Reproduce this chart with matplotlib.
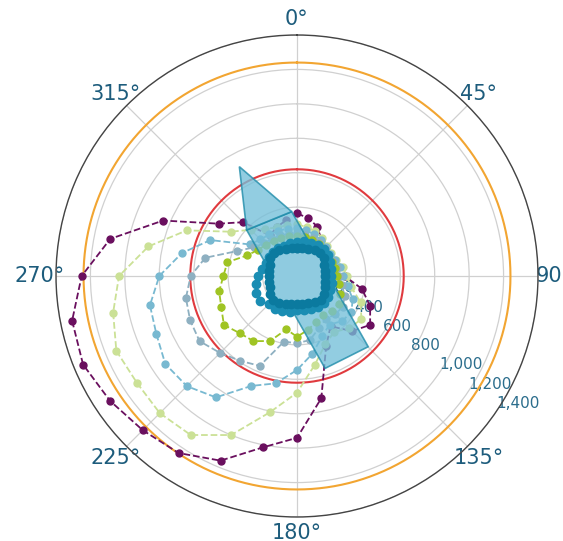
import numpy as np
import matplotlib
matplotlib.use("Agg")
import matplotlib.pyplot as plt

# angles of the 32 samples around the circle (degrees, clockwise from north)
angles_deg = np.arange(32) * 11.25

# radial values, one list per series
purple = [364, 342, 310, 254, 195, 165, 150, 200, 277, 385, 460, 511, 453, 351, 442, 724,
          940, 1015, 1161, 1237, 1267, 1306, 1345, 1332, 1251, 1106, 842, 547, 442, 283, 307, 330]
pale_green = [300, 290, 280, 265, 250, 240, 245, 270, 290, 320, 400, 450, 430, 390, 430, 527,
              678, 807, 1000, 1111, 1127, 1118, 1136, 1089, 1034, 880, 693, 463, 380, 330, 305, 300]
light_blue = [280, 270, 262, 250, 240, 232, 238, 255, 270, 300, 350, 380, 370, 340, 380, 460,
              546, 636, 691, 848, 905, 920, 884, 871, 800, 682, 545, 330, 300, 290, 285, 280]
gray_blue = [250, 245, 240, 235, 228, 222, 225, 235, 245, 265, 300, 320, 315, 300, 330, 380,
             390, 389, 565, 593, 632, 681, 672, 658, 618, 543, 378, 300, 270, 260, 255, 250]
bright_green = [235, 232, 228, 225, 220, 215, 218, 225, 235, 250, 270, 290, 285, 275, 290, 320,
                353, 316, 409, 455, 470, 511, 476, 461, 428, 412, 313, 273, 255, 245, 240, 237]
teal_loop = [200, 205, 210, 215, 225, 215, 205, 200, 200, 205, 210, 215, 220, 215, 205, 200,
             198, 213, 222, 228, 234, 258, 256, 240, 225, 205, 198, 195, 200, 195, 190, 195]
teal_square = [160, 163, 172, 185, 193, 186, 172, 163, 160, 164, 173, 186, 194, 185, 171, 163,
               161, 164, 173, 187, 195, 186, 172, 164, 161, 163, 172, 186, 193, 185, 172, 163]

# pencil-shaped highlight polygon (theta deg, r)
band_theta = [312.4, 355.3, 134.8, 163.1]
band_r = [396, 375, 583, 561]
cap_theta = [312.4, 332.2, 355.3]
cap_r = [396, 718, 375]

red_level = 620
orange_level = 1240

rticks = [200, 400, 600, 800, 1000, 1200, 1400]
rtick_labels = ["200", "400", "600", "800", "1,000", "1,200", "1,400"]

fig = plt.figure(figsize=(5.63, 5.41), dpi=100)
ax = fig.add_axes([56 / 563, 24 / 541, 482 / 563, 482 / 541], projection="polar")
ax.set_theta_zero_location("N")
ax.set_theta_direction(-1)
ax.set_axisbelow(True)

th = np.deg2rad(angles_deg)

series = [
    (purple, "#6a0f5e"),
    (pale_green, "#cbe196"),
    (light_blue, "#78b9d1"),
    (gray_blue, "#8eb0c1"),
    (bright_green, "#9fc423"),
]
for vals, col in series:
    ax.plot(th, vals, linestyle="--", color=col, lw=1.3, marker="o", ms=5, zorder=3)

circ = np.deg2rad(np.arange(0, 361, 1))
ax.plot(circ, np.full(circ.shape, red_level), color="#e03a3e", lw=1.5, zorder=2.8)
ax.plot(circ, np.full(circ.shape, orange_level), color="#f2a531", lw=1.5, zorder=2.8)

ax.fill(np.deg2rad(band_theta), band_r, facecolor="#74bfd9", alpha=0.78,
        edgecolor="#1b8aa8", lw=1.2, zorder=4)
ax.fill(np.deg2rad(cap_theta), cap_r, facecolor="#74bfd9", alpha=0.78,
        edgecolor="#1b8aa8", lw=1.2, zorder=4)

# teal inner ring
ax.plot(th, teal_loop, color="#1a8db3", lw=1.5, marker="o", ms=6, zorder=5)
ax.fill(th, teal_square, facecolor="#8fcbe0", edgecolor="none", zorder=5)
ax.plot(np.append(th, th[0]), teal_square + teal_square[:1], color="#0b7a9f", lw=2.5,
        marker="o", ms=6, zorder=6)

ax.set_ylim(0, 1400)
ax.set_yticks(rticks)
ax.set_yticklabels(rtick_labels)
ax.set_rlabel_position(124)
ax.grid(color="#d0d0d0", lw=0.9)
ax.spines["polar"].set_color("#444444")
ax.spines["polar"].set_linewidth(1.0)
ax.tick_params(axis="x", labelsize=15, labelcolor="#1d5c7c", pad=1)
ax.tick_params(axis="y", labelsize=11, labelcolor="#2b6d8c")

fig.savefig("out.png", dpi=100)
